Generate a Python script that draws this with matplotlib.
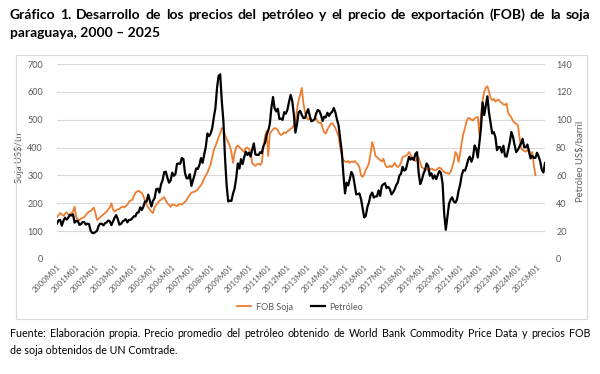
import numpy as np
import matplotlib
matplotlib.use('Agg')
import matplotlib.pyplot as plt
from matplotlib.patches import Rectangle

# --- datos mensuales (2000M01 en adelante) ---------------------------------
# Petróleo, precio promedio US$/barril (2000M01 - 2025M06)
petroleo = [
    25.5, 27.8, 28.0, 23.9, 27.4, 29.7, 28.3, 29.5, 31.7, 31.2, 32.1, 26.1,   # 2000
    27.2, 27.4, 24.5, 25.0, 26.6, 26.5, 24.7, 25.4, 25.1, 20.4, 18.7, 18.6,   # 2001
    19.4, 20.2, 23.7, 25.4, 25.3, 24.1, 25.7, 26.3, 27.6, 27.2, 24.3, 27.0,   # 2002
    29.6, 31.5, 28.7, 24.6, 25.2, 26.9, 27.7, 28.6, 26.3, 28.1, 28.1, 29.2,   # 2003
    30.7, 30.6, 33.3, 33.4, 37.1, 35.2, 37.6, 41.3, 41.1, 46.2, 42.1, 37.7,   # 2004
    41.8, 43.6, 50.1, 50.5, 47.7, 53.5, 56.6, 62.4, 62.7, 58.4, 54.8, 56.4,   # 2005
    62.0, 59.7, 60.9, 68.3, 68.6, 68.3, 72.5, 71.8, 61.6, 57.9, 57.9, 60.9,   # 2006
    52.5, 56.6, 60.4, 65.1, 64.6, 67.5, 72.5, 69.0, 75.0, 80.5, 90.1, 88.2,   # 2007
    90.0, 93.9, 101.7, 108.3, 122.6, 131.5, 132.6, 113.2, 99.1, 72.8, 53.2, 41.3,  # 2008
    41.9, 41.7, 46.9, 50.6, 58.1, 68.6, 64.9, 71.7, 68.1, 73.2, 77.0, 74.7,   # 2009
    76.4, 73.6, 78.5, 83.0, 75.1, 74.8, 74.7, 76.7, 76.0, 81.0, 83.3, 89.0,   # 2010
    92.1, 96.8, 108.6, 116.3, 108.2, 105.9, 107.9, 100.5, 100.8, 99.9, 105.4, 104.3,  # 2011
    107.1, 112.7, 117.8, 113.7, 104.1, 90.7, 96.8, 105.3, 106.3, 103.4, 101.2, 101.2,  # 2012
    105.1, 107.6, 102.5, 98.9, 99.4, 100.4, 104.6, 107.0, 106.3, 103.4, 99.1, 102.2,  # 2013
    101.6, 105.0, 102.7, 104.6, 105.7, 108.4, 105.2, 100.1, 95.9, 86.1, 77.0, 60.7,  # 2014
    47.1, 54.8, 52.8, 57.4, 62.5, 60.3, 53.6, 46.4, 46.6, 47.1, 43.1, 36.6,   # 2015
    29.8, 31.0, 37.3, 40.8, 45.9, 47.7, 44.1, 44.9, 45.0, 49.3, 45.3, 52.6,   # 2016
    53.6, 54.4, 50.9, 51.8, 50.3, 46.4, 47.7, 49.9, 53.0, 54.9, 59.9, 61.2,   # 2017
    66.2, 63.5, 64.2, 68.8, 73.4, 71.4, 72.7, 71.1, 75.4, 76.7, 62.3, 53.8,   # 2018
    56.6, 61.1, 63.8, 68.6, 66.8, 59.8, 61.5, 57.7, 60.0, 57.3, 60.4, 63.2,   # 2019
    61.6, 54.0, 32.2, 21.0, 30.4, 39.5, 42.8, 44.3, 41.1, 40.5, 42.7, 49.0,   # 2020
    53.6, 60.5, 63.8, 63.4, 66.9, 71.4, 73.5, 69.8, 73.1, 81.5, 79.2, 72.9,   # 2021
    83.9, 94.2, 112.4, 103.4, 110.1, 116.8, 105.1, 97.7, 90.2, 91.1, 87.5, 78.1,  # 2022
    80.4, 80.3, 76.5, 81.3, 73.8, 73.5, 78.5, 84.0, 91.2, 87.7, 81.8, 76.7,   # 2023
    78.3, 80.6, 83.0, 86.3, 80.2, 80.2, 82.2, 77.0, 72.2, 74.1, 72.6, 72.6,   # 2024
    76.3, 73.6, 70.1, 64.0, 62.1, 68.9,                                       # 2025
]

# Soja, precio FOB US$/tn (2000M01 - 2024M12)
soja = [
    150, 158, 165, 160, 155, 162, 168, 160, 158, 165, 170, 188,   # 2000
    150, 142, 140, 145, 148, 150, 158, 165, 170, 172, 178, 185,   # 2001
    165, 140, 145, 150, 155, 160, 165, 170, 178, 185, 200, 178,   # 2002
    170, 175, 178, 180, 185, 188, 185, 190, 195, 205, 210, 212,   # 2003
    225, 238, 242, 245, 240, 238, 225, 210, 195, 185, 178, 170,   # 2004
    165, 185, 195, 200, 210, 212, 218, 222, 210, 200, 195, 187,   # 2005
    195, 195, 192, 190, 195, 198, 195, 200, 205, 212, 222, 230,   # 2006
    238, 240, 242, 245, 250, 258, 265, 275, 290, 300, 310, 325,   # 2007
    340, 365, 390, 405, 420, 438, 450, 470, 468, 445, 430, 420,   # 2008
    405, 384, 345, 380, 400, 408, 402, 395, 390, 385, 398, 400,   # 2009
    395, 385, 345, 338, 335, 340, 342, 338, 345, 398, 440, 460,   # 2010
    370, 450, 458, 465, 470, 468, 462, 450, 445, 448, 455, 452,   # 2011
    458, 462, 468, 470, 480, 492, 535, 570, 590, 614, 560, 525,   # 2012
    510, 500, 505, 495, 498, 500, 505, 492, 488, 490, 470, 455,   # 2013
    450, 465, 475, 485, 488, 480, 470, 455, 440, 400, 370, 355,   # 2014
    350, 348, 352, 345, 350, 348, 352, 345, 340, 330, 300, 295,   # 2015
    305, 320, 330, 345, 380, 420, 400, 370, 366, 360, 355, 350,   # 2016
    360, 340, 330, 330, 335, 330, 335, 345, 335, 330, 335, 345,   # 2017
    366, 368, 370, 375, 384, 375, 360, 355, 352, 358, 365, 345,   # 2018
    330, 325, 320, 322, 318, 320, 325, 322, 318, 320, 325, 328,   # 2019
    325, 318, 312, 310, 308, 305, 312, 330, 350, 384, 375, 348,   # 2020
    380, 420, 450, 470, 495, 506, 505, 500, 498, 505, 508, 510,   # 2021
    445, 520, 570, 600, 615, 620, 600, 578, 570, 575, 565, 570,   # 2022
    572, 565, 560, 555, 553, 558, 525, 515, 508, 495, 490, 485,   # 2023
    481, 440, 398, 392, 388, 385, 390, 395, 373, 384, 337, 301,   # 2024
]

anios = list(range(2000, 2026))
etiquetas_x = [f'{a}M01' for a in anios]

TITULO_1 = ('Gráfico 1. Desarrollo de los precios del petróleo y el precio '
            'de exportación (FOB) de la soja')
TITULO_2 = 'paraguaya, 2000 – 2025'
FUENTE_1 = ('Fuente: Elaboración propia. Precio promedio del petróleo obtenido '
            'de World Bank Commodity Price Data y precios FOB')
FUENTE_2 = 'de soja obtenidos de UN Comtrade.'

# --- estilo -----------------------------------------------------------------
W, H = 600, 374
FONT = 'Lato'
GRIS = '#595959'
NARANJA = '#ED7D31'
plt.rcParams['font.family'] = FONT

fig = plt.figure(figsize=(W / 100, H / 100), dpi=100)
rend = fig.canvas.get_renderer()


def ancho(s, size, weight='normal'):
    t = fig.text(0, 0, s, fontsize=size, fontweight=weight)
    w = t.get_window_extent(rend).width
    t.remove()
    return w


def justificado(linea, x0, x1, y, size, weight='normal'):
    palabras = linea.split(' ')
    anchos = [ancho(p, size, weight) for p in palabras]
    gap = (x1 - x0 - sum(anchos)) / (len(palabras) - 1)
    x = x0
    for p, a in zip(palabras, anchos):
        fig.text(x / W, 1 - y / H, p, fontsize=size, fontweight=weight,
                 va='baseline', ha='left', color='black')
        x += a + gap


# tamaño de letra ajustado al ancho natural de la primera línea
size_tit = 10 * 560 / ancho(TITULO_1, 10, 'bold')
size_fte = 10 * 565 / ancho(FUENTE_1, 10)

justificado(TITULO_1, 10, 590, 19, size_tit, 'bold')
fig.text(10 / W, 1 - 37 / H, TITULO_2, fontsize=size_tit, fontweight='bold',
         va='baseline')
justificado(FUENTE_1, 10, 590, 337, size_fte)
fig.text(10 / W, 1 - 354 / H, FUENTE_2, fontsize=size_fte, va='baseline')

# marco del gráfico
fig.patches.append(Rectangle((16 / W, 1 - 319 / H), 571 / W, 264 / H,
                             transform=fig.transFigure, fill=False,
                             ec='#d9d9d9', lw=0.8))

ax = fig.add_axes([57 / W, 1 - 259 / H, 488 / W, 195 / H])
ax2 = ax.twinx()

x_soja = np.arange(len(soja))
x_petr = np.arange(len(petroleo))
l1, = ax.plot(x_soja, soja, color=NARANJA, lw=1.3, label='FOB Soja')
l2, = ax2.plot(x_petr, petroleo, color='black', lw=1.6, label='Petróleo')

ax.set_xlim(0, len(petroleo) - 1)
ax.set_ylim(0, 700)
ax2.set_ylim(0, 140)
ax.set_yticks(range(0, 701, 100))
ax2.set_yticks(range(0, 141, 20))
ax.set_xticks(np.arange(len(anios)) * 12)
ax.set_xticklabels(etiquetas_x, rotation=45, ha='right', va='top',
                   rotation_mode='anchor')

for a in (ax, ax2):
    for s in a.spines.values():
        s.set_visible(False)
    a.tick_params(length=0, colors=GRIS, labelsize=6.5)
ax.tick_params(axis='x', pad=3, labelsize=5.9)
ax.tick_params(axis='y', pad=10)
ax2.tick_params(axis='y', pad=8)
ax.grid(axis='y', color='#d9d9d9', lw=0.8)
ax.set_axisbelow(True)

ax.set_ylabel('Soja US$/tn', color=GRIS, fontsize=6.8)
ax2.set_ylabel('Petróleo US$/barril', color=GRIS, fontsize=6.8)
ax.yaxis.set_label_coords((24 - 57) / 488, 0.52)
ax2.yaxis.set_label_coords((576 - 57) / 488, 0.5)

fig.legend(handles=[l1, l2], loc='center', bbox_to_anchor=(300 / W, 1 - 307 / H),
           ncol=2, frameon=False, fontsize=6.5, labelcolor=GRIS,
           handlelength=1.6, columnspacing=2.0, handletextpad=0.5)

fig.savefig('out.png', dpi=100)
